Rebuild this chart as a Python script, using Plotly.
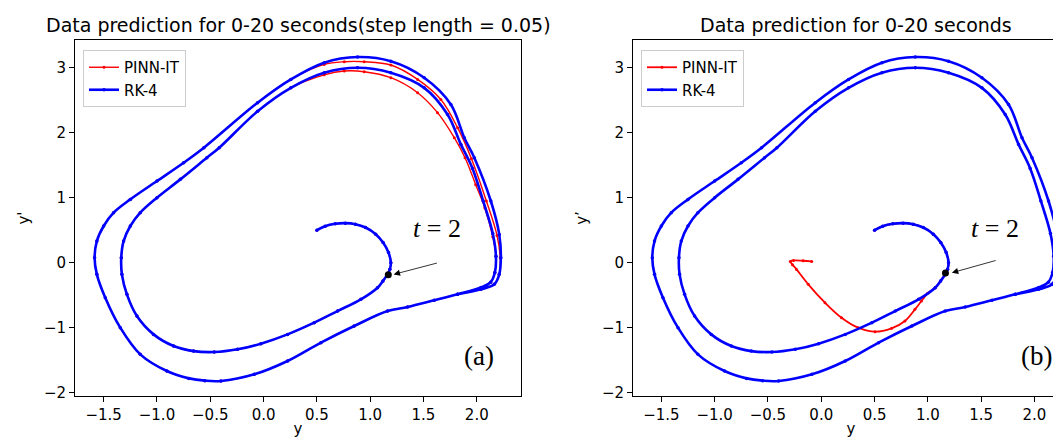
import plotly.graph_objects as go

# ---------------- data ----------------
# RK-4 trajectory (y, y')
rk4_y = [0.50, 0.577, 0.672, 0.767, 0.862, 0.957, 1.052, 1.121, 1.172, 1.194, 1.185, 1.163,
         1.12, 1.069, 0.913, 0.694, 0.475, 0.225, -0.025, -0.244, -0.463, -0.657,
         -0.844, -1.032, -1.188, -1.282, -1.329, -1.335, -1.313, -1.25, -1.157, -1.0,
         -0.781, -0.532, -0.416, -0.056, 0.256, 0.569, 0.882, 1.194, 1.507, 1.726, 1.851,
         1.96, 2.06, 2.15, 2.18, 2.17, 2.13, 2.04, 1.82, 1.601, 1.351, 1.163, 0.85, 0.538,
         0.225, -0.087, -0.4, -0.55, -0.70, -0.907, -1.157, -1.344, -1.485, -1.564, -1.585,
         -1.564, -1.5, -1.407, -1.25, -1.0, -0.75, -0.56, -0.056, 0.256, 0.569, 0.882,
         1.194, 1.507, 1.757, 1.883, 1.977, 2.132, 2.211, 2.226, 2.211, 2.164, 2.039, 1.82]
rk4_dy = [0.50, 0.562, 0.598, 0.608, 0.592, 0.541, 0.439, 0.31, 0.156, 0.0, -0.10, -0.18,
          -0.28, -0.385, -0.564, -0.744, -0.923, -1.103, -1.246, -1.333, -1.375, -1.36,
          -1.282, -1.103, -0.821, -0.487, -0.179, 0.077, 0.333, 0.564, 0.769, 1.0,
          1.282, 1.615, 1.769, 2.33, 2.69, 2.923, 3.0, 2.923, 2.69, 2.28, 1.82,
          1.45, 0.95, 0.45, 0.1, -0.15, -0.30, -0.38, -0.487, -0.579, -0.682, -0.744, -0.974, -1.23,
          -1.513, -1.718, -1.82, -1.815, -1.78, -1.667, -1.41, -1.0, -0.538, -0.179, 0.077,
          0.333, 0.564, 0.769, 0.974, 1.256, 1.538, 1.769, 2.462, 2.82, 3.077, 3.164,
          3.10, 2.846, 2.435, 1.923, 1.615, 0.949, 0.435, 0.077, -0.179, -0.333, -0.41, -0.487]

# PINN-IT, panel (a): step length 0.05
pinn_a_y = [0.50, 0.577, 0.672, 0.767, 0.862, 0.957, 1.052, 1.121, 1.172, 1.194, 1.185, 1.163,
            1.12, 1.069, 0.913, 0.694, 0.475, 0.225, -0.025, -0.244, -0.463, -0.657,
            -0.844, -1.032, -1.188, -1.282, -1.329, -1.335, -1.313, -1.25, -1.157, -1.0,
            -0.781, -0.532, -0.416, -0.056, 0.256, 0.569, 0.757, 0.944, 1.194, 1.445, 1.632,
            1.789, 1.89, 1.99, 2.075, 2.15, 2.18, 2.17, 2.13, 2.04, 1.82, 1.601, 1.351, 1.163,
            0.85, 0.538, 0.225, -0.087, -0.4, -0.55, -0.70, -0.907, -1.157, -1.344, -1.485,
            -1.564, -1.585, -1.564, -1.5, -1.407, -1.25, -1.0, -0.75, -0.56, -0.056, 0.256,
            0.569, 0.757, 0.944, 1.194, 1.445, 1.663, 1.82, 1.95, 2.09, 2.19, 2.22, 2.211,
            2.164, 2.039, 1.82]
pinn_a_dy = [0.50, 0.562, 0.598, 0.608, 0.592, 0.541, 0.439, 0.31, 0.156, 0.0, -0.10, -0.18,
             -0.28, -0.385, -0.564, -0.744, -0.923, -1.103, -1.246, -1.333, -1.375, -1.36,
             -1.282, -1.103, -0.821, -0.487, -0.179, 0.077, 0.333, 0.564, 0.769, 1.0,
             1.282, 1.615, 1.769, 2.33, 2.69, 2.89, 2.949, 2.938, 2.846, 2.615, 2.308,
             1.923, 1.615, 1.2, 0.846, 0.4, 0.1, -0.15, -0.30, -0.38, -0.487, -0.579, -0.682, -0.744,
             -0.974, -1.23, -1.513, -1.718, -1.82, -1.815, -1.78, -1.667, -1.41, -1.0, -0.538,
             -0.179, 0.077, 0.333, 0.564, 0.769, 0.974, 1.256, 1.538, 1.769, 2.462, 2.82,
             3.05, 3.092, 3.092, 3.041, 2.82, 2.51, 2.077, 1.6, 0.95, 0.42, 0.077, -0.179,
             -0.333, -0.41, -0.487]

# PINN-IT, panel (b)
pinn_b_y = [0.50, 0.577, 0.672, 0.767, 0.862, 0.957, 1.052, 1.121, 1.172, 1.194, 1.185, 1.163,
            1.12, 1.069, 0.998, 0.94, 0.879, 0.785, 0.66, 0.504, 0.347, 0.19, 0.035, -0.122,
            -0.232, -0.27, -0.29, -0.26, -0.17, -0.09]
pinn_b_dy = [0.50, 0.562, 0.598, 0.608, 0.592, 0.541, 0.439, 0.31, 0.156, 0.0, -0.10, -0.18,
             -0.28, -0.385, -0.47, -0.59, -0.718, -0.897, -1.01, -1.062, -1.0, -0.846, -0.615,
             -0.333, -0.103, -0.03, 0.02, 0.035, 0.03, 0.02]

# t = 2 points and annotation positions
t2_a = (1.17, -0.185)
t2_b = (1.165, -0.16)
arrow_a = ((1.22, -0.18), (1.64, 0.0))
arrow_b = ((1.225, -0.155), (1.65, 0.04))

x_ticks = [-1.5, -1.0, -0.5, 0.0, 0.5, 1.0, 1.5, 2.0]
y_ticks = [-2, -1, 0, 1, 2, 3]

titles = ["Data prediction for 0-20 seconds(step length = 0.05)", "Data prediction for 0-20 seconds"]

# ---------------- figure ----------------
W, H = 1061, 440
L, R, T, B = 67, 0, 32, 52
pw = W - L - R
ph = H - T - B

def px_x(p):
    return (p - L) / pw

def px_y(p):
    return 1 - (p - T) / ph

FONT = "DejaVu Sans"
RED = "#ff0000"
BLUE = "#0000ff"
SM = 1.0

fig = go.Figure()

fig.add_trace(go.Scatter(x=pinn_a_y, y=pinn_a_dy, name="PINN-IT", mode="lines+markers",
                         line=dict(color=RED, width=1.4, shape="spline", smoothing=SM),
                         marker=dict(color=RED, size=3), xaxis="x", yaxis="y", legend="legend"))
fig.add_trace(go.Scatter(x=rk4_y, y=rk4_dy, name="RK-4", mode="lines+markers",
                         line=dict(color=BLUE, width=2.6, shape="spline", smoothing=SM),
                         marker=dict(color=BLUE, size=3.5), xaxis="x", yaxis="y", legend="legend"))
fig.add_trace(go.Scatter(x=pinn_b_y, y=pinn_b_dy, name="PINN-IT", mode="lines+markers",
                         line=dict(color=RED, width=1.8, shape="spline", smoothing=SM),
                         marker=dict(color=RED, size=3), xaxis="x2", yaxis="y2", legend="legend2"))
fig.add_trace(go.Scatter(x=rk4_y, y=rk4_dy, name="RK-4", mode="lines+markers",
                         line=dict(color=BLUE, width=2.6, shape="spline", smoothing=SM),
                         marker=dict(color=BLUE, size=3.5), xaxis="x2", yaxis="y2", legend="legend2"))

for pt, xa, ya in [(t2_a, "x", "y"), (t2_b, "x2", "y2")]:
    fig.add_trace(go.Scatter(x=[pt[0]], y=[pt[1]], mode="markers", showlegend=False,
                             marker=dict(color="black", size=7), xaxis=xa, yaxis=ya))

axis_common = dict(showgrid=False, zeroline=False, showline=True, linecolor="black", linewidth=1,
                   ticks="outside", ticklen=5, tickcolor="black", tickwidth=1, automargin=False,
                   tickfont=dict(family=FONT, size=15, color="black"), ticklabelstandoff=0)
title_font = dict(family=FONT, size=15, color="black")

fig.update_layout(
    width=W, height=H, margin=dict(l=L, r=R, t=T, b=B, autoexpand=False),
    paper_bgcolor="white", plot_bgcolor="white",
    xaxis=dict(domain=[0, px_x(513)], range=[-1.769, 2.415], tickvals=x_ticks, tickformat=".1f",
               mirror=True, anchor="y", title=dict(text="y", font=title_font, standoff=0),
               **axis_common),
    yaxis=dict(domain=[0, 1], range=[-2.051, 3.426], tickvals=y_ticks, mirror=True, anchor="x",
               title=dict(text="y'", font=title_font, standoff=10), **axis_common),
    xaxis2=dict(domain=[px_x(625), 1], range=[-1.766, 2.324], tickvals=x_ticks, tickformat=".1f",
                mirror=True, anchor="y2", title=dict(text="y", font=title_font, standoff=0),
                **axis_common),
    yaxis2=dict(domain=[0, 1], range=[-2.051, 3.426], tickvals=y_ticks, mirror=False, anchor="x2",
                title=dict(text="y’", font=title_font, standoff=10), **axis_common),
    legend=dict(x=px_x(75), y=px_y(42), xanchor="left", yanchor="top",
                bgcolor="rgba(255,255,255,0.8)", bordercolor="#cccccc", borderwidth=1,
                font=dict(family=FONT, size=15, color="black"), itemwidth=30),
    legend2=dict(x=px_x(633), y=px_y(42), xanchor="left", yanchor="top",
                 bgcolor="rgba(255,255,255,0.8)", bordercolor="#cccccc", borderwidth=1,
                 font=dict(family=FONT, size=15, color="black"), itemwidth=30),
    showlegend=True,
)

annotations = []
for txt, cx in [(titles[0], 290), (titles[1], 848)]:
    annotations.append(dict(text=txt, xref="paper", yref="paper", x=px_x(cx), y=px_y(17),
                            xanchor="center", yanchor="middle", showarrow=False,
                            font=dict(family=FONT, size=19, color="black")))
for (tip, tail), xr, yr, tag in [(arrow_a, "x", "y", "(a)"), (arrow_b, "x2", "y2", "(b)")]:
    annotations.append(dict(text="", x=tip[0], y=tip[1], ax=tail[0], ay=tail[1], xref=xr, yref=yr,
                            axref=xr, ayref=yr, showarrow=True, arrowhead=2, arrowsize=1.6,
                            arrowwidth=0.8, arrowcolor="black"))
    annotations.append(dict(text="<i>t</i> = 2", x=1.63, y=0.52, xref=xr, yref=yr, showarrow=False,
                            xanchor="center", yanchor="middle",
                            font=dict(family="Liberation Serif", size=26, color="black")))
    annotations.append(dict(text=tag, x=2.02, y=-1.435, xref=xr, yref=yr, showarrow=False,
                            xanchor="center", yanchor="middle",
                            font=dict(family="Liberation Serif", size=27, color="black")))
fig.update_layout(annotations=annotations)

fig.write_html("out.html")
